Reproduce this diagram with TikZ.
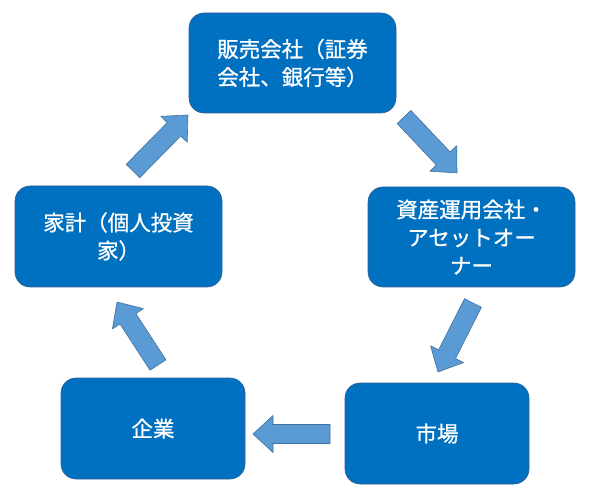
\documentclass[tikz,border=0pt]{standalone}
\usepackage{fontspec}
\newfontfamily\jpfont[FakeBold=0.9]{Noto Sans CJK JP}
\usepackage{pgf,tikz}
\usetikzlibrary{calc}
\definecolor{qqtqcq}{rgb}{0.,0.4392156862745098,0.7529411764705882}
\definecolor{dfqhdd}{rgb}{0.3568627450980392,0.6078431372549019,0.8352941176470589}
\definecolor{cbdfrt}{rgb}{0.2549019607843137,0.44313725490196076,0.611764705882353}
\definecolor{dhdhdh}{rgb}{0.2,0.38,0.58}
\tikzset{
  flowbox/.style={draw=dhdhdh,line width=0.6pt,fill=qqtqcq,rounded corners=15pt,text=white,align=center,inner sep=0pt,font=\jpfont\fontsize{21.5}{28}\selectfont},
  blockarrow/.style={draw=cbdfrt,line width=0.6pt,fill=dfqhdd}
}
\newcommand{\flowarrow}[2]{%
  \path ($(#2)!20pt!(#1)$) coordinate (h);
  \draw[blockarrow] ($(#1)!9.5pt!90:(#2)$) -- ($(h)!9.5pt!90:(#2)$) -- ($(h)!18.5pt!90:(#2)$) -- (#2)
    -- ($(h)!18.5pt!-90:(#2)$) -- ($(h)!9.5pt!-90:(#2)$) -- ($(#1)!9.5pt!-90:(#2)$) -- cycle;}

\begin{document}
\begin{tikzpicture}[line cap=round,line join=round,x=1pt,y=1pt]
	\useasboundingbox[fill=white] (0,0) rectangle (591,501);
	\node[flowbox,minimum width=207pt,minimum height=100pt] (sales) at (292.5,438) {販売会社（証券\\会社、銀行等）};
	\node[flowbox,minimum width=207pt,minimum height=100pt] (asset) at (471.5,264) {資産運用会社・\\アセットオー\\ナー};
	\node[flowbox,minimum width=184pt,minimum height=101pt] (market) at (437,67.5) {市場};
	\node[flowbox,minimum width=184pt,minimum height=101pt] (firm) at (153,72.5) {企業};
	\node[flowbox,minimum width=207pt,minimum height=101pt] (house) at (118.5,264.5) {家計（個人投資\\家）};
	% arrow ends
	\coordinate (s1) at (133,330); \coordinate (e1) at (188,386);
	\coordinate (s2) at (404,384); \coordinate (e2) at (457,328);
	\coordinate (s3) at (473,198); \coordinate (e3) at (438,129);
	\coordinate (s4) at (330,67); \coordinate (e4) at (253,67);
	\coordinate (s5) at (158,136); \coordinate (e5) at (117,199);
	\flowarrow{s1}{e1}
	\flowarrow{s2}{e2}
	\flowarrow{s3}{e3}
	\flowarrow{s4}{e4}
	\flowarrow{s5}{e5}
\end{tikzpicture}
\end{document}
